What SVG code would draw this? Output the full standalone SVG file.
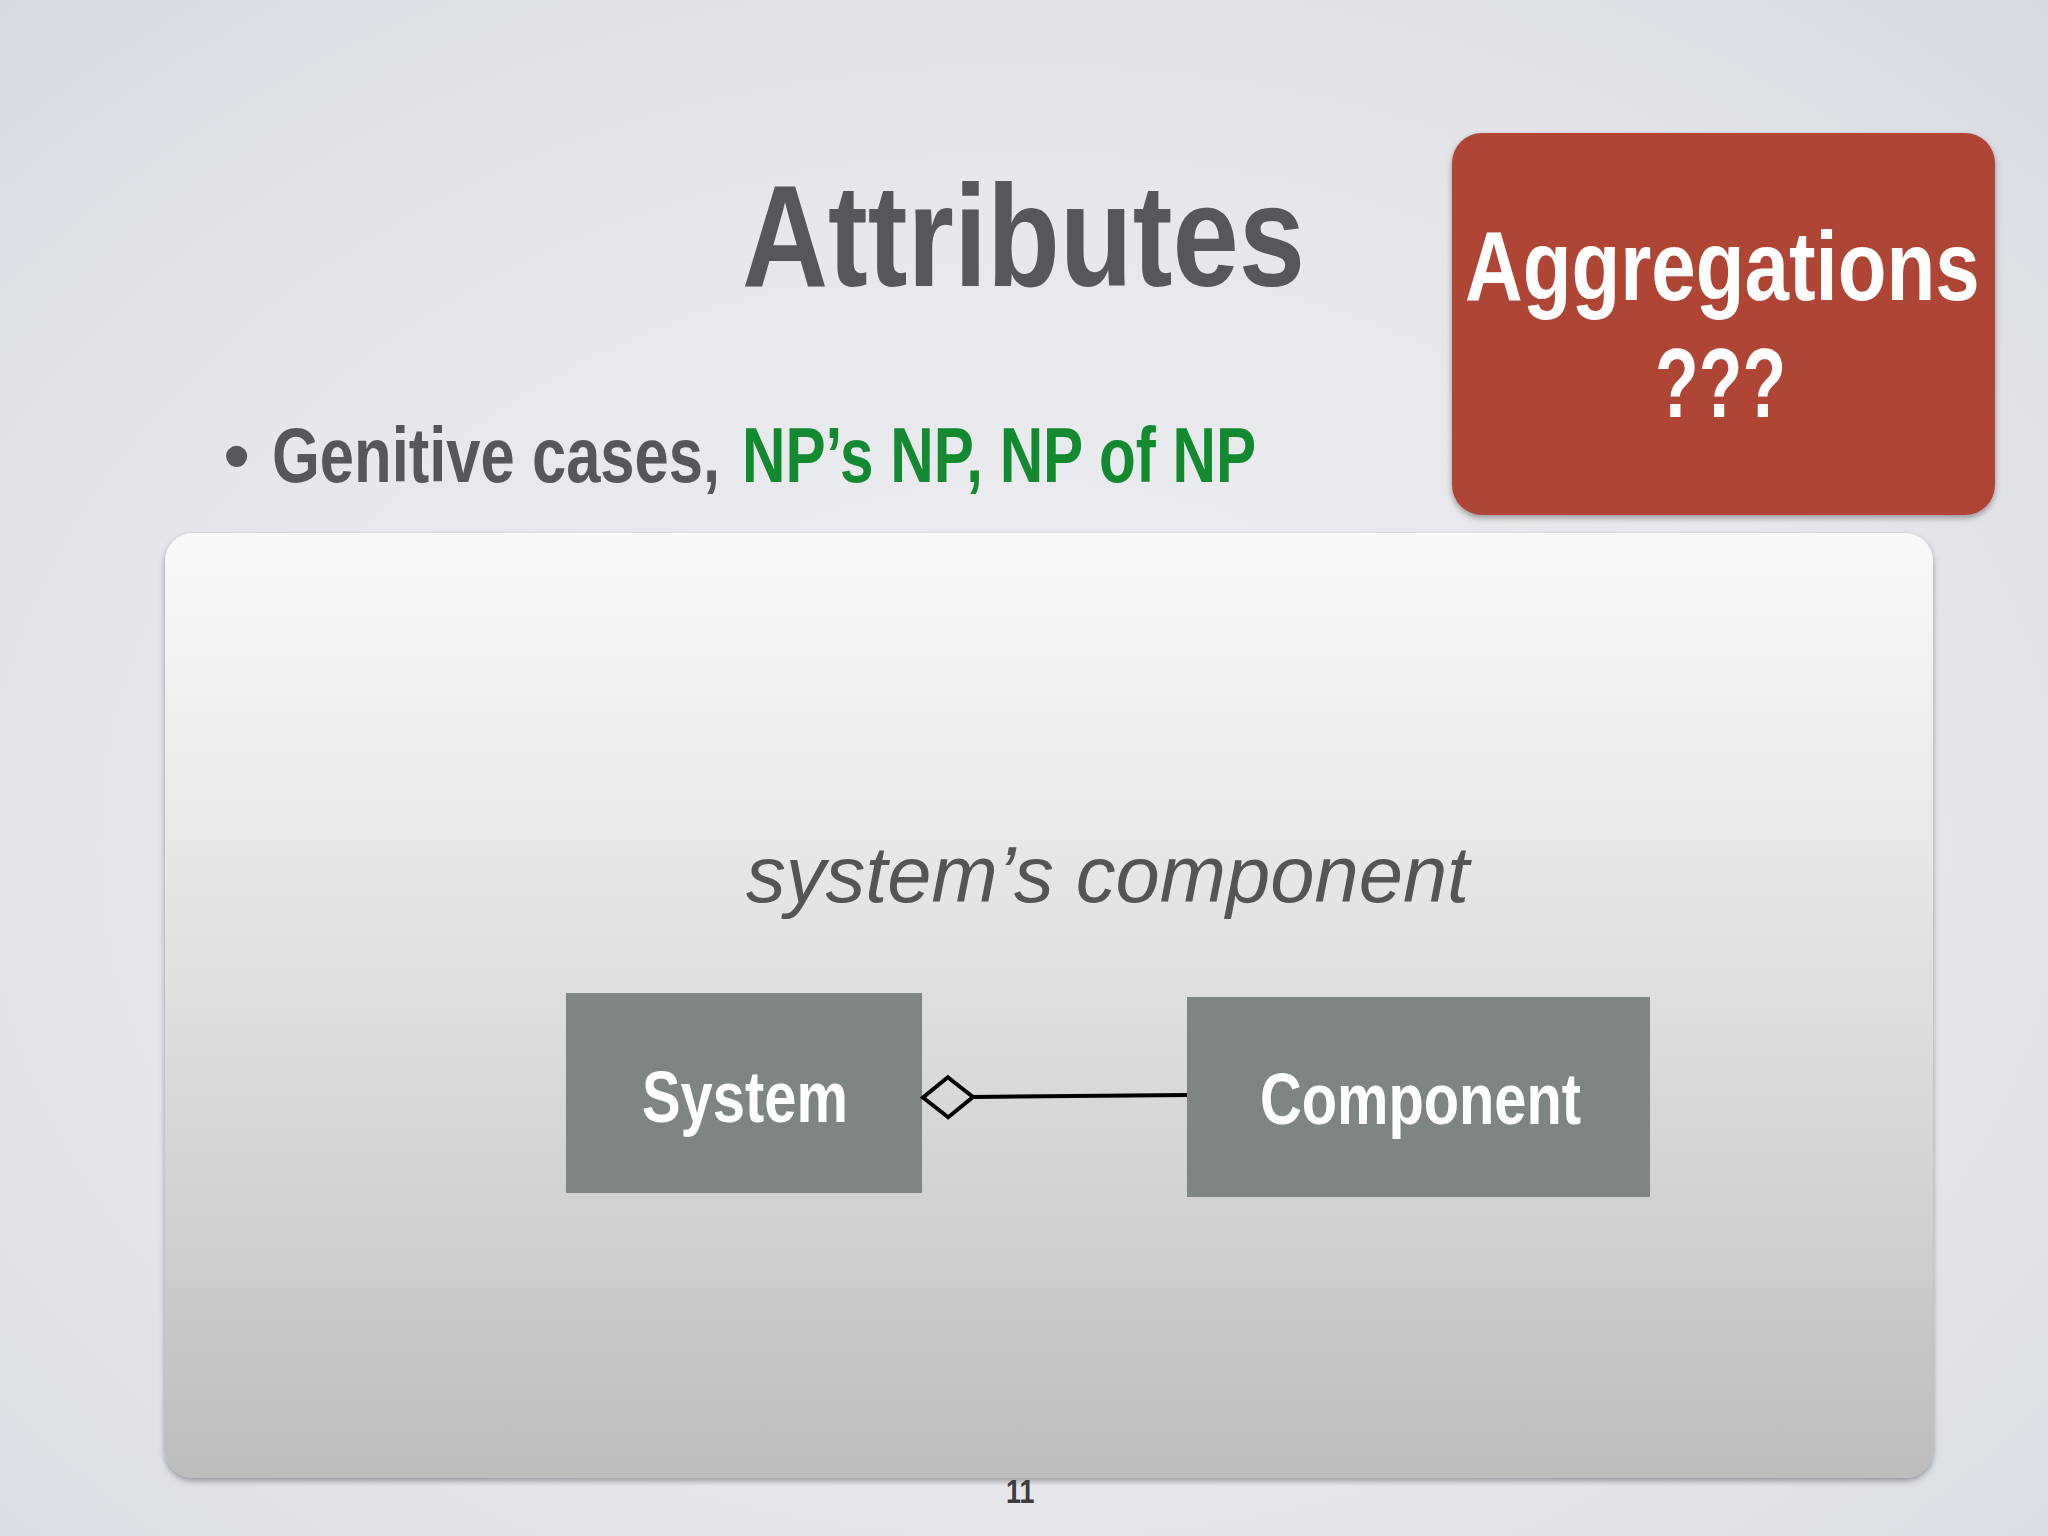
<svg xmlns="http://www.w3.org/2000/svg" width="2048" height="1536" viewBox="0 0 2048 1536">
  <defs>
    <radialGradient id="bg" cx="50%" cy="55%" r="75%">
      <stop offset="0" stop-color="#eeeef1"/>
      <stop offset="0.6" stop-color="#e6e7eb"/>
      <stop offset="1" stop-color="#d6dbe1"/>
    </radialGradient>
    <linearGradient id="panelFill" x1="0" y1="0" x2="0" y2="1">
      <stop offset="0" stop-color="#f9f9f9"/>
      <stop offset="0.4" stop-color="#e4e4e4"/>
      <stop offset="0.7" stop-color="#d2d2d2"/>
      <stop offset="1" stop-color="#bdbdbd"/>
    </linearGradient>
    <filter id="shadow" x="-5%" y="-5%" width="110%" height="115%">
      <feDropShadow dx="0" dy="3" stdDeviation="3" flood-color="#000" flood-opacity="0.35"/>
    </filter>
    <marker id="aggDiamond" markerUnits="userSpaceOnUse" markerWidth="56" markerHeight="46" viewBox="0 0 56 46" refX="2" refY="23" orient="auto-start-reverse" overflow="visible">
      <path d="M2,23 L27,3 L52,23 L27,43 Z" fill="none" stroke="#000" stroke-width="4" stroke-linejoin="miter"/>
    </marker>
  </defs>
  <style>
    .cond { font-family: "Liberation Sans", Arial, sans-serif; font-weight: bold; }
    .gray { fill: #55575a; }
    .green { fill: #138a2f; }
    .white { fill: #ffffff; }
    .node rect { fill: #7f8582; }
    .node text { font-family: "Liberation Sans", Arial, sans-serif; font-weight: bold; font-size: 73px; fill: #ffffff; }
    .conn { fill: none; stroke: #000; stroke-width: 4; }
  </style>

  <rect id="background" x="0" y="0" width="2048" height="1536" fill="url(#bg)"/>

  <g id="title">
    <text class="cond gray" transform="translate(742,286) scale(0.828,1)" x="0" y="0" font-size="144">Attributes</text>
  </g>

  <g id="bullet">
    <text x="223" y="482" font-family="'Liberation Sans', Arial, sans-serif" font-size="78" class="gray">•</text>
    <text class="cond gray" transform="translate(272,482) scale(0.789,1)" x="0" y="0" font-size="78">Genitive cases,</text>
    <text class="cond green" transform="translate(742,482) scale(0.772,1)" x="0" y="0" font-size="78">NP’s NP, NP of NP</text>
  </g>

  <g id="callout">
    <rect x="1452" y="133" width="543" height="382" rx="30" ry="30" fill="#ae4535" filter="url(#shadow)"/>
    <text class="cond white" transform="translate(1465,300) scale(0.815,1)" x="0" y="0" font-size="98">Aggregations</text>
    <text class="cond white" transform="translate(1655,417) scale(0.73,1)" x="0" y="0" font-size="98">???</text>
  </g>

  <g id="panel">
    <rect x="165" y="533" width="1768" height="945" rx="28" ry="28" fill="url(#panelFill)" filter="url(#shadow)"/>
  </g>

  <g id="label">
    <text x="746" y="902" font-family="'Liberation Sans', Arial, sans-serif" font-style="italic" font-size="79.5" fill="#545556">system’s component</text>
  </g>

  <g id="node-system" class="node">
    <rect x="566" y="993" width="356" height="200"/>
    <text transform="translate(642,1122) scale(0.793,1)" x="0" y="0">System</text>
  </g>

  <g id="node-component" class="node">
    <rect x="1187" y="997" width="463" height="200"/>
    <text transform="translate(1260,1124) scale(0.792,1)" x="0" y="0">Component</text>
  </g>

  <g id="connectors">
    <path class="conn" d="M973,1097 L1187,1095" marker-start="url(#aggDiamond)"/>
  </g>

  <g id="page-number">
    <text class="cond" transform="translate(1006,1503) scale(0.79,1)" x="0" y="0" font-size="34" fill="#3c3c3c">11</text>
  </g>
</svg>
